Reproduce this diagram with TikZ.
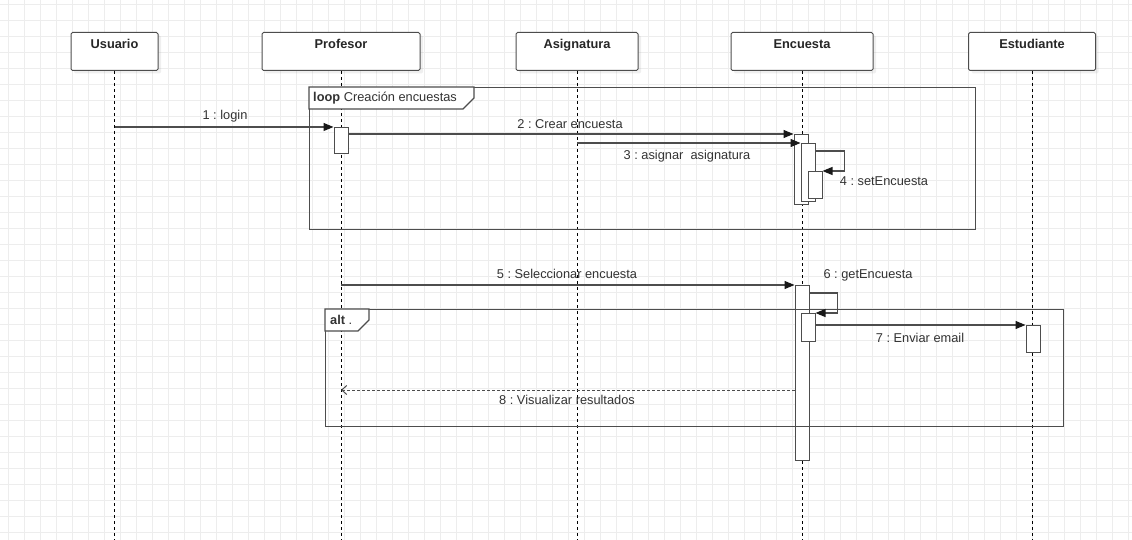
\documentclass[tikz,border=0pt]{standalone}
\usepackage{fontspec}
\setmainfont{Liberation Sans}
\usetikzlibrary{arrows.meta,shadows,calc}
\frenchspacing

\definecolor{gridc}{HTML}{EDEDED}
\definecolor{linec}{HTML}{4D4D4D}
\definecolor{textc}{HTML}{333333}

\tikzset{
  txt/.style={font=\fontsize{12.8}{15}\selectfont, text=textc, inner sep=0pt},
  head/.style={draw=linec, line width=1pt, fill=white, rounded corners=1.5pt,
    anchor=north, minimum width=#1, minimum height=38pt,
    inner xsep=0pt, inner ysep=6.5pt, text height=9.5pt, text depth=15.5pt,
    font=\fontsize{12.8}{15}\selectfont\bfseries, text=black!85,
    drop shadow={opacity=0.12, shadow xshift=3pt, shadow yshift=-3pt}},
  lifeline/.style={draw=black, line width=0.9pt, dash pattern=on 3pt off 3pt},
  act/.style={draw=linec, line width=1pt, fill=white, anchor=north,
    minimum width=14pt, minimum height=#1, inner sep=0pt},
  frame/.style={draw=linec, line width=1.2pt, anchor=north west, inner sep=0pt},
  tag/.style={draw=linec, line width=1.2pt, fill=white},
  msg/.style={draw=linec, line width=1.2pt,
    -{Triangle[length=10pt,width=8pt,color=black!90]}},
  ret/.style={draw=linec, line width=1pt, dash pattern=on 2.5pt off 2.5pt,
    -{Straight Barb[length=5pt,width=9pt]}},
}

\begin{document}
\begin{tikzpicture}[x=1pt,y=-1pt]
  \useasboundingbox (0,0) rectangle (1132,540);
  \fill[white] (0,0) rectangle (1132,540);

  % background grid
  \foreach \gx in {8,24,...,1128} \draw[gridc, line width=0.8pt] (\gx,0) -- (\gx,540);
  \foreach \gy in {4,20,...,532} \draw[gridc, line width=0.8pt] (0,\gy) -- (1132,\gy);

  \coordinate (bottom) at (0,540);

  % lifeline heads
  \node[head=87]  (usr)  at (114.5,32) {Usuario};
  \node[head=158] (prof) at (341,32)   {Profesor};
  \node[head=122] (asig) at (577,32)   {Asignatura};
  \node[head=142] (enc)  at (802,32)   {Encuesta};
  \node[head=127] (est)  at (1032,32)  {Estudiante};

  % lifelines
  \foreach \h in {usr,prof,asig,enc,est}
    \draw[lifeline] (\h.south) -- (\h.south |- bottom);

  % activations
  \node[act=26]  (a1)   at (341,127) {};
  \node[act=70]  (encA) at (801,134) {};
  \node[act=58]  (encB) at (808,143) {};
  \node[act=27]  (encC) at (815,171) {};
  \node[act=175] (encD) at (802,285) {};
  \node[act=28]  (encE) at (808,313) {};
  \node[act=27]  (estF) at (1033,325) {};

  % combined fragments
  \node[frame, minimum width=666pt, minimum height=142pt] (loopf) at (309,87) {};
  \draw[tag] (loopf.north west) -- ++(165,0) -- ++(0,11) -- ++(-11,11) -- ++(-154,0) -- cycle;
  \node[txt, anchor=west] (loopt) at (313,98) {\textbf{loop} Creación encuestas};

  \node[frame, minimum width=738pt, minimum height=117pt] (altf) at (325,309) {};
  \draw[tag] (altf.north west) -- ++(44,0) -- ++(0,11) -- ++(-11,11) -- ++(-33,0) -- cycle;
  \node[txt, anchor=west] (altt) at (330,320) {\textbf{alt} .};

  % messages
  \draw[msg] (usr.south |- a1.north west) -- (a1.north west);
  \draw[msg] (a1.north east |- encA.north west) -- (encA.north west);
  \draw[msg] (asig.south |- encB.north west) -- (encB.north west);
  \draw[msg] ([yshift=-8pt]encB.north east) -| ([xshift=22pt]encC.north east) -- (encC.north east);
  \draw[msg] (prof.south |- encD.north west) -- (encD.north west);
  \draw[msg] ([yshift=-8pt]encD.north east) -| ([xshift=22pt]encE.north east) -- (encE.north east);
  \draw[msg] (encE.east |- estF.north west) -- (estF.north west);
  \coordinate (r8) at ($(encD.north west)+(0,105)$);
  \draw[ret] (r8) -- (prof.south |- r8);

  % message labels
  \node[txt] (m1) at (225,116) {1 : login};
  \node[txt] (m2) at (570,124) {2 : Crear encuesta};
  \node[txt] (m3) at (687,156) {3 : asignar\ \ asignatura};
  \node[txt] (m4) at (884,181) {4 : setEncuesta};
  \node[txt] (m5) at (567,274) {5 : Seleccionar encuesta};
  \node[txt] (m6) at (868,275) {6 : getEncuesta};
  \node[txt] (m7) at (920,338) {7 : Enviar email};
  \node[txt] (m8) at (567,400) {8 : Visualizar resultados};
\end{tikzpicture}
\end{document}
